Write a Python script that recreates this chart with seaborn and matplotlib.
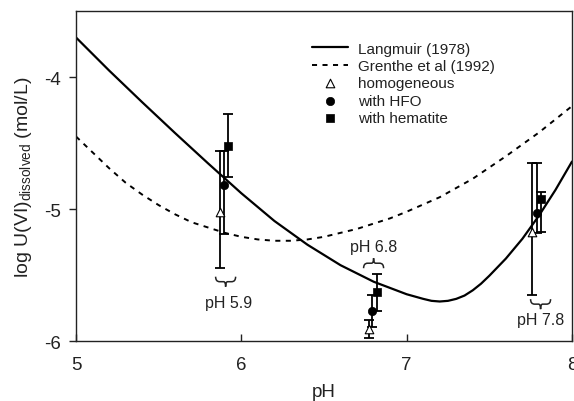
import matplotlib
matplotlib.use("Agg")
import matplotlib.pyplot as plt
from matplotlib.path import Path
from matplotlib.patches import PathPatch
from matplotlib.transforms import Affine2D, ScaledTranslation
import seaborn as sns

# Solubility curves: log dissolved U(VI) vs pH
langmuir_ph = [5.0, 5.2, 5.4, 5.6, 5.8, 6.0, 6.2, 6.4, 6.6, 6.8, 7.0, 7.1,
               7.15, 7.2, 7.25, 7.3, 7.35, 7.4, 7.45, 7.5, 7.6, 7.7, 7.8,
               7.9, 8.0]
langmuir_logu = [-3.70, -3.95, -4.19, -4.425, -4.655, -4.88, -5.09, -5.27,
                 -5.425, -5.55, -5.645, -5.68, -5.695, -5.70, -5.695, -5.68,
                 -5.655, -5.615, -5.565, -5.505, -5.375, -5.225, -5.05,
                 -4.855, -4.64]

grenthe_ph = [5.0, 5.1, 5.2, 5.3, 5.4, 5.5, 5.6, 5.7, 5.8, 5.9, 6.0, 6.1, 6.2,
              6.3, 6.4, 6.5, 6.6, 6.7, 6.8, 6.9, 7.0, 7.2, 7.4, 7.6, 7.8, 8.0]
grenthe_logu = [-4.45, -4.57, -4.69, -4.80, -4.89, -4.97, -5.04, -5.10, -5.14,
                -5.18, -5.21, -5.23, -5.24, -5.24, -5.23, -5.21, -5.18, -5.15,
                -5.11, -5.07, -5.02, -4.91, -4.77, -4.60, -4.42, -4.22]

# Measured dissolved U(VI) at pH 5.9, 6.8 and 7.8 (with error ranges)
homog_ph = [5.874, 6.77, 7.76]
homog_logu = [-5.02, -5.91, -5.17]
homog_err_lo = [0.43, 0.07, 0.48]
homog_err_hi = [0.46, 0.07, 0.52]

hfo_ph = [5.896, 6.79, 7.79]
hfo_logu = [-4.82, -5.77, -5.03]
hfo_err_lo = [0.37, 0.12, 0.15]
hfo_err_hi = [0.26, 0.12, 0.38]

hem_ph = [5.917, 6.82, 7.81]
hem_logu = [-4.52, -5.63, -4.92]
hem_err_lo = [0.24, 0.14, 0.25]
hem_err_hi = [0.24, 0.14, 0.05]

group_labels = ["pH 5.9", "pH 6.8", "pH 7.8"]

sns.set_theme(style="ticks")
plt.rcParams.update({
    "font.family": ["Liberation Sans", "DejaVu Sans"],
    "axes.unicode_minus": False,
    "mathtext.fontset": "custom",
    "mathtext.rm": "Liberation Sans",
    "mathtext.it": "Liberation Sans:italic",
    "mathtext.bf": "Liberation Sans:bold",
    "text.color": "#222222",
    "axes.labelcolor": "#222222",
    "xtick.color": "#222222",
    "ytick.color": "#222222",
    "axes.edgecolor": "#222222",
})

fig = plt.figure(figsize=(5.74, 4.02), dpi=100)
ax = fig.add_axes([0.1324, 0.149, 0.8641, 0.821])

sns.lineplot(x=langmuir_ph, y=langmuir_logu, ax=ax, color="black", lw=1.6,
             sort=False, label="Langmuir (1978)")
sns.lineplot(x=grenthe_ph, y=grenthe_logu, ax=ax, color="black", lw=1.4,
             sort=False, label="Grenthe et al (1992)")
ax.lines[-1].set_dashes((2.6, 2.8))

err_kw = dict(fmt="none", ecolor="black", elinewidth=1.3, capsize=3.5,
              capthick=1.3, zorder=3)
ax.errorbar(homog_ph, homog_logu, yerr=[homog_err_lo, homog_err_hi], **err_kw)
ax.errorbar(hfo_ph, hfo_logu, yerr=[hfo_err_lo, hfo_err_hi], **err_kw)
ax.errorbar(hem_ph, hem_logu, yerr=[hem_err_lo, hem_err_hi], **err_kw)

sns.scatterplot(x=homog_ph, y=homog_logu, ax=ax, marker="^", s=38,
                facecolor="white", edgecolor="black", linewidth=0.8,
                zorder=4, label="homogeneous")
sns.scatterplot(x=hfo_ph, y=hfo_logu, ax=ax, marker="o", s=36,
                color="black", edgecolor="black", linewidth=0.5,
                zorder=4, label="with HFO")
sns.scatterplot(x=hem_ph, y=hem_logu, ax=ax, marker="s", s=34,
                color="black", edgecolor="black", linewidth=0.5,
                zorder=4, label="with hematite")


def curly_brace(ax, x, y, tip_down=True, half_w=10.0, h=5.0):
    """Horizontal curly brace centred at data point (x, y), sized in pixels."""
    s = -1.0 if tip_down else 1.0
    verts = [(-half_w, -s * h), (-half_w, 0), (-half_w + 4, 0),
             (-2, 0),
             (0, 0), (0, s * h),
             (0, 0), (2, 0),
             (half_w - 4, 0),
             (half_w, 0), (half_w, -s * h)]
    codes = [Path.MOVETO, Path.CURVE3, Path.CURVE3,
             Path.LINETO,
             Path.CURVE3, Path.CURVE3,
             Path.CURVE3, Path.CURVE3,
             Path.LINETO,
             Path.CURVE3, Path.CURVE3]
    trans = Affine2D() + ScaledTranslation(x, y, ax.transData)
    ax.add_patch(PathPatch(Path(verts, codes), facecolor="none",
                           edgecolor="#222222", lw=1.1, transform=trans,
                           clip_on=False))


# Group labels with curly braces
curly_brace(ax, 5.905, -5.55, tip_down=True)
ax.text(5.92, -5.71, group_labels[0], ha="center", va="center", fontsize=11.5)
curly_brace(ax, 6.80, -5.41, tip_down=False)
ax.text(6.80, -5.28, group_labels[1], ha="center", va="center", fontsize=11.5)
curly_brace(ax, 7.81, -5.72, tip_down=True)
ax.text(7.81, -5.84, group_labels[2], ha="center", va="center", fontsize=11.5)

ax.set_xlim(5, 8)
ax.set_ylim(-6, -3.5)
ax.set_xticks([5, 6, 7, 8])
ax.set_yticks([-6, -5, -4])
ax.tick_params(axis="x", direction="in", length=5, width=1, labelsize=13.5, pad=11)
ax.tick_params(axis="y", direction="out", length=5, width=1, labelsize=13.5, pad=6)
for sp in ax.spines.values():
    sp.set_linewidth(1.0)

ax.set_xlabel("pH", fontsize=13.5, labelpad=7)
ax.set_ylabel(r"log U(VI)$_{\mathrm{dissolved}}$ (mol/L)", fontsize=14, labelpad=7)

handles, labels = ax.get_legend_handles_labels()
ax.legend(handles, labels, loc="upper left", bbox_to_anchor=(0.476, 0.907),
          frameon=False, fontsize=11, handlelength=2.35, handletextpad=0.65,
          labelspacing=0.22, borderpad=0, borderaxespad=0)

fig.savefig("out.png", dpi=100)
